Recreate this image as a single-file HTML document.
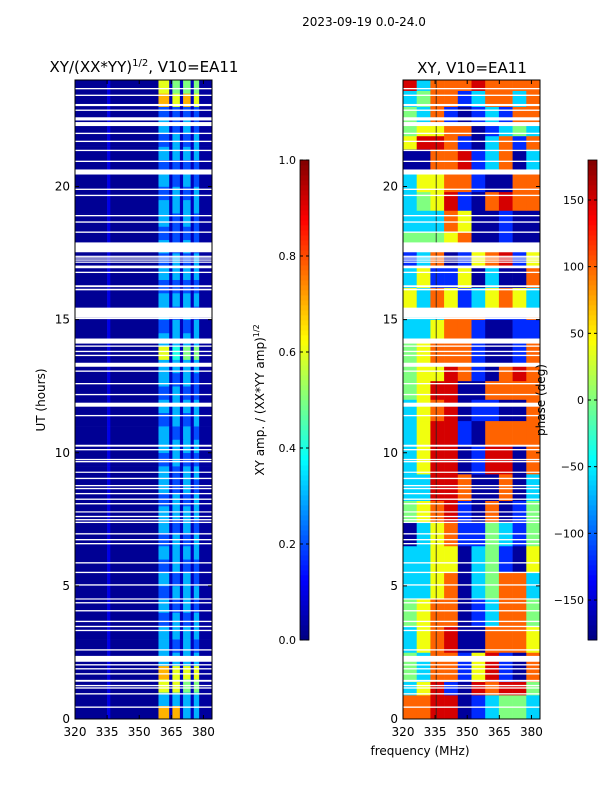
<!DOCTYPE html>
<html><head><meta charset="utf-8">
<style>
html,body{margin:0;padding:0;background:#fff;width:600px;height:800px;overflow:hidden}
svg{display:block;font-family:"DejaVu Sans","Liberation Sans",sans-serif}
</style></head>
<body>
<svg id="fig" width="600" height="800" viewBox="0 0 600 800">
<text x="364" y="26" font-size="12" text-anchor="middle">2023-09-19 0.0-24.0</text>
<text x="144" y="72" font-size="15" text-anchor="middle">XY/(XX*YY)<tspan font-size="10" dy="-6">1/2</tspan><tspan dy="6">, V10=EA11</tspan></text>
<text x="472" y="73" font-size="15" text-anchor="middle">XY, V10=EA11</text>
<g id="left"></g>
<g id="right"></g>
<g id="axes"></g>
<text x="45" y="400" font-size="12" text-anchor="middle" transform="rotate(-90 45 400)">UT (hours)</text>
<text x="420" y="755" font-size="12" text-anchor="middle">frequency (MHz)</text>
<text x="264" y="400" font-size="12" text-anchor="middle" transform="rotate(-90 264 400)">XY amp. / (XX*YY amp)<tspan font-size="8" dy="-5">1/2</tspan></text>
<text x="545" y="400" font-size="12" text-anchor="middle" transform="rotate(-90 545 400)">phase (deg)</text>
</svg>
<script>
// ---- data ----
const freqTicks = [320, 335, 350, 365, 380];
const timeTicks = [0, 5, 10, 15, 20];
const ampTicks = [0.0, 0.2, 0.4, 0.6, 0.8, 1.0];
const phaseTicks = [-150, -100, -50, 0, 50, 100, 150];
// amplitude frequency bins (MHz edges)
const ampBinEdges = [320, 335, 336.5, 359, 364, 365.5, 369, 370.5, 374, 375.5, 378, 384];
// per half-hour row (from 0h upward): band intensities for 4 bright bands (digit = value*10)
const ampRows = [
"7733","3333","6655","7666","3333","3232","3333","2323","3232","2333",
"3232","2322","3333","2323","3232","3333","2323","3232","3233","2322",
"3333","3232","2323","3333","2322","3232","3333","6455","3333","2323",
"3232","3333","2222","3333","2323","3232","2222","3232","3333","2323",
"3232","2222","3333","2323","3232","2222","7676","6555"];
const ampBase = [0.02, 0.1, 0.02, null, 0.06, null, 0.06, null, 0.06, null, 0.03];
// phase bands: start hour and 10-column strings (320-384 MHz)
const phaseStart = [0,0.9,1.4,2.1,2.5,3.5,4.5,5.5,6.5,7.4,8.2,9.2,10.3,11.2,12,12.7,13.3,14.3,15,15.3,16.2,17,17.5,17.9,18.3,19.1,19.8,20.5,20.7,21.4,21.9,22.4,23,23.6];
const phaseRows = [
"oorrBbcggc","cyrbBrorrg","gcoobyrbBo","gcoobyrbBo","cyorBBoooy","gyooBbcoog","ccyoBcgooc","ccyyBcgbBy","Bcyobbgcbg","gyorbBoBbg",
"ccrroBBoBc","cyrrBbrrBo","cyrrbBoooo","cyorBbbBBo","gyrrBBoooo","gyyrobBoro","gyooobBBbo","ccyoobBBbb","cccooobbbo","ycoybcyoyc",
"cybbyBcBBo","bcoBbyorby","bcoBbyorby","gggyoBBbBB","cccoyBBbBB","cgyrbBoroo","cyyoobBBoo","BBoorbcoBc","BBoorbcoBc","yrrobBcobo",
"gyyooBbcgc","gcobBbcboo","cgoobcooco","rcoooroooo"];
const phaseMap = {B:-170, b:-120, c:-60, g:0, y:40, o:100, r:150};
// flagged (blank) time ranges in hours
const flags = [[0.42,0.47],[0.92,0.97],[1.14,1.19],[1.23,1.28],[1.4,1.47],[1.67,1.72],[1.86,1.91],[2.01,2.06],[2.15,2.37],[2.57,2.62],
[3.3,3.35],[3.45,3.5],[3.64,3.69],[4.04,4.09],[4.34,4.39],[4.49,4.53],[5.01,5.06],[5.48,5.53],[5.84,5.89],[6.56,6.61],[6.71,6.76],[6.93,6.98],
[7.36,7.41],[7.46,7.51],[7.58,7.63],[7.76,7.8],[8.06,8.11],[8.23,8.28],[8.44,8.49],[8.63,8.68],[8.74,8.79],[9.01,9.06],[9.25,9.29],[9.64,9.69],[9.72,9.77],
[10.09,10.14],[10.23,10.3],[11.37,11.42],[11.73,11.88],[12.16,12.21],[12.57,12.62],[13.04,13.09],[13.23,13.38],[13.63,13.68],[13.78,13.83],[13.98,14.03],
[14.1,14.29],[15.02,15.07],[15.07,15.45],[16.1,16.16],[16.22,16.29],[16.75,16.8],[16.93,17.03],[17.14,17.18],[17.22,17.26],[17.3,17.34],[17.36,17.4],
[17.53,17.9],[18.26,18.31],[18.64,18.69],[18.88,18.93],[19.64,19.69],[19.87,19.92],[20.45,20.64],[20.92,20.97],[21.33,21.38],[21.67,21.72],[21.97,22.02],
[22.27,22.42],[22.48,22.6],[22.84,22.89],[23.02,23.1],[23.4,23.45],[23.65,23.7]];

// ---- scales ----
const PY0=80, PY1=719, FMIN=320, FMAX=384;
const yT = h => PY1 - (h/24)*(PY1-PY0);
const xL = f => 75 + (f-FMIN)/(FMAX-FMIN)*137;
const xR = f => 403 + (f-FMIN)/(FMAX-FMIN)*137;
function jet(v){v=Math.max(0,Math.min(1,v));
 const r=Math.min(Math.max(Math.min(4*v-1.5,-4*v+4.5),0),1);
 const g=Math.min(Math.max(Math.min(4*v-0.5,-4*v+3.5),0),1);
 const b=Math.min(Math.max(Math.min(4*v+0.5,-4*v+2.5),0),1);
 return `rgb(${Math.round(r*255)},${Math.round(g*255)},${Math.round(b*255)})`;}
const NS="http://www.w3.org/2000/svg";
function mk(tag,attrs,parent){const e=document.createElementNS(NS,tag);for(const k in attrs)e.setAttribute(k,attrs[k]);parent.appendChild(e);return e;}

// ---- left heatmap ----
const L=document.getElementById('left');
ampRows.forEach((row,i)=>{
  const h0=i*0.5,h1=h0+0.5;
  for(let j=0;j<ampBinEdges.length-1;j++){
    let v=ampBase[j];
    if(v===null){const bi=(j-3)/2;v=parseInt(row[bi])/10;}
    const r=mk('rect',{x:xL(ampBinEdges[j]),y:yT(h1),width:xL(ampBinEdges[j+1])-xL(ampBinEdges[j])+0.3,height:yT(h0)-yT(h1)+0.3,fill:jet(v)},L);
    
    
  }
});
// ---- right heatmap ----
const R=document.getElementById('right');
phaseRows.forEach((row,i)=>{
  const h0=phaseStart[i],h1=(i+1<phaseStart.length)?phaseStart[i+1]:24;
  const n=row.length;
  for(let j=0;j<n;j++){
    const f0=FMIN+(FMAX-FMIN)*j/n,f1=FMIN+(FMAX-FMIN)*(j+1)/n;
    const v=phaseMap[row[j]];
    const r=mk('rect',{x:xR(f0),y:yT(h1),width:xR(f1)-xR(f0)+0.3,height:yT(h0)-yT(h1)+0.3,fill:jet((v+180)/360)},R);
    
    
  }
});
mk('line',{x1:xR(335.5),x2:xR(335.5),y1:PY0,y2:PY1,stroke:'#222','stroke-width':0.8},R);
// flags
flags.forEach(fl=>{
  [[75,137],[403,137]].forEach(([x0,w])=>{
    const r=mk('rect',{x:x0,y:yT(fl[1]),width:w,height:Math.max(1.2,yT(fl[0])-yT(fl[1])),fill:'#fff'},x0===75?L:R);
    
    
  });
});
// ---- axes ----
const A=document.getElementById('axes');
[[75,xL],[403,xR]].forEach(([x0,xs])=>{
  mk('rect',{x:x0,y:PY0,width:137,height:PY1-PY0,fill:'none',stroke:'#000','stroke-width':1},A);
  freqTicks.forEach(f=>{
    const x=xs(f);
    mk('line',{x1:x,x2:x,y1:PY1,y2:PY1-4,stroke:'#000'},A);
    mk('line',{x1:x,x2:x,y1:PY0,y2:PY0+4,stroke:'#000'},A);
    const t=mk('text',{x:x,y:736,'font-size':12,'text-anchor':'middle'},A);t.textContent=f;
    
    
  });
  timeTicks.forEach(h=>{
    const y=yT(h);
    mk('line',{x1:x0,x2:x0+4,y1:y,y2:y,stroke:'#000'},A);
    mk('line',{x1:x0+137,x2:x0+133,y1:y,y2:y,stroke:'#000'},A);
    const t=mk('text',{x:x0-5,y:y+4,'font-size':12,'text-anchor':'end'},A);t.textContent=h;
    
    
  });
});
// ---- colorbars ----
function colorbar(x,ticks,lo,hi,fmt,name){
  const g=mk('g',{},A);
  
  
  const top=160,bot=640,N=96;
  for(let i=0;i<N;i++){mk('rect',{x:x,y:bot-(i+1)*(bot-top)/N,width:9,height:(bot-top)/N+0.4,fill:jet((i+0.5)/N)},g);}
  mk('rect',{x:x,y:top,width:9,height:bot-top,fill:'none',stroke:'#000','stroke-width':0.8},g);
  ticks.forEach(v=>{
    const y=bot-(v-lo)/(hi-lo)*(bot-top);
    mk('line',{x1:x,x2:x+3,y1:y,y2:y,stroke:'#000'},g);
    mk('line',{x1:x+9,x2:x+6,y1:y,y2:y,stroke:'#000'},g);
    const t=mk('text',{x:x-4,y:y+4,'font-size':11,'text-anchor':'end'},g);t.textContent=fmt(v);
    
    
  });
}
colorbar(300,ampTicks,0,1,v=>v.toFixed(1),'amplitude-colorbar');
colorbar(588,phaseTicks,-180,180,v=>(v<0?'\u2212'+(-v):String(v)),'phase-colorbar');
</script>
</body></html>
